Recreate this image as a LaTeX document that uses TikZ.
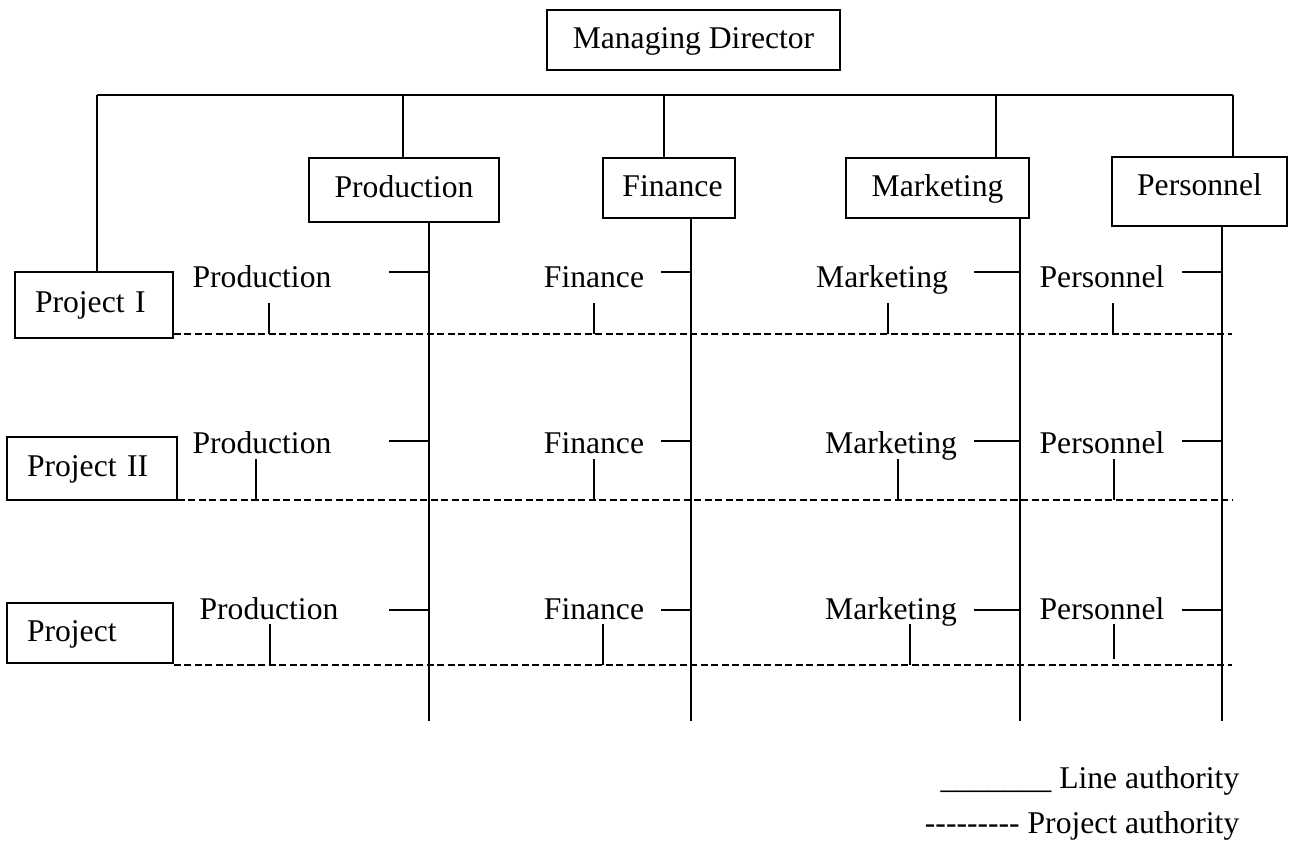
\documentclass[tikz,border=0pt]{standalone}
\usepackage{fontspec}
\setmainfont{Liberation Serif}
\newcommand{\lghy}{\mbox{-}}
\begin{document}
\begin{tikzpicture}[x=0.02cm,y=-0.02cm,line width=0.8pt,
  every node/.style={font=\fontsize{18}{21.6}\selectfont, inner sep=0pt},
  box/.style={draw, align=center, text height=13pt, text depth=3pt},
  pbox/.style={draw, inner xsep=0.4cm, align=left, text height=13pt, text depth=4pt},
  lbl/.style={anchor=base},
  proj/.style={dash pattern=on 4pt off 2pt}]
\useasboundingbox (0,0) rectangle (1291,852);
% top boxes
\node[box, minimum width=5.86cm, minimum height=1.2cm] (md) at (693.5,40) {Managing Director};
\node[box, minimum width=3.8cm, minimum height=1.28cm, text depth=4pt] (prod) at (404,190) {Production};
\node[box, minimum width=2.64cm, minimum height=1.2cm] (fin) at (669,188) {\hspace*{0.14cm}Finance};
\node[box, minimum width=3.66cm, minimum height=1.2cm] (mkt) at (937.5,188) {Marketing};
\node[box, minimum width=3.5cm, minimum height=1.38cm, text depth=9pt] (pers) at (1199.5,191.5) {Personnel};
% project boxes
\node[pbox, text width=2.36cm, minimum height=1.32cm, text depth=5pt] (p1) at (94,305) {Project I};
\node[pbox, text width=2.6cm, minimum height=1.26cm, text depth=3.5pt] (p2) at (92,468.5) {Project II};
\node[pbox, text width=2.52cm, minimum height=1.2cm, text depth=3pt] (p3) at (90,633) {Project};
% top connectors
\coordinate (tl) at (97,95);
\coordinate (tr) at (1233,95);
\draw (tl) -- (tr);
\draw (tl) -- (tl |- p1.north);
\coordinate (dP) at (403,95);
\coordinate (dF) at (664,95);
\coordinate (dM) at (996,95);
\draw (dP) -- (dP |- prod.north);
\draw (dF) -- (dF |- fin.north);
\draw (dM) -- (dM |- mkt.north);
\draw (tr) -- (tr |- pers.north);
% line authority verticals
\coordinate (bP) at (429,721);
\coordinate (bF) at (691,721);
\coordinate (bM) at (1020,721);
\coordinate (bR) at (1222,721);
\draw (bP |- prod.south) -- (bP);
\draw (bF |- fin.south) -- (bF);
\draw (bM |- mkt.south) -- (bM);
\draw (bR |- pers.south) -- (bR);
% rows
\foreach \r/\yb/\yt/\yv/\yd/\lp/\lm/\vp/\vf/\vm/\ve/\ye in
  {1/287/272/303/334/262/882/269/594/888/1113/334,
   2/453/441/459/500/262/891/256/594/898/1114/500,
   3/619/610/624/665/269/891/270/603/910/1114/659} {
  \node[lbl] (prod\r) at (\lp,\yb) {Production};
  \node[lbl] (fin\r) at (594,\yb) {Finance};
  \node[lbl] (mkt\r) at (\lm,\yb) {Marketing};
  \node[lbl] (pers\r) at (1102,\yb) {Personnel};
  \coordinate (d\r) at (1232,\yd);
  \draw[proj] (p\r.east |- d\r) -- (d\r);
  \coordinate (hP\r) at (389,\yt);
  \coordinate (hF\r) at (661,\yt);
  \coordinate (hM\r) at (974,\yt);
  \coordinate (hR\r) at (1182,\yt);
  \draw (hP\r) -- (hP\r -| bP);
  \draw (hF\r) -- (hF\r -| bF);
  \draw (hM\r) -- (hM\r -| bM);
  \draw (hR\r) -- (hR\r -| bR);
  \coordinate (vP\r) at (\vp,\yv);
  \coordinate (vF\r) at (\vf,\yv);
  \coordinate (vM\r) at (\vm,\yv);
  \coordinate (vR\r) at (\ve,\yv);
  \coordinate (eR\r) at (\ve,\ye);
  \draw (vP\r) -- (vP\r |- d\r);
  \draw (vF\r) -- (vF\r |- d\r);
  \draw (vM\r) -- (vM\r |- d\r);
  \draw (vR\r) -- (eR\r);
}
% legend
\node[anchor=base east] (leg1) at (1240,788) {\_\_\_\_\_\_\_ Line authority};
\node[anchor=base east] (leg2) at (1240,833) {\lghy\lghy\lghy\lghy\lghy\lghy\lghy\lghy\lghy{} Project authority};
\end{tikzpicture}
\end{document}
